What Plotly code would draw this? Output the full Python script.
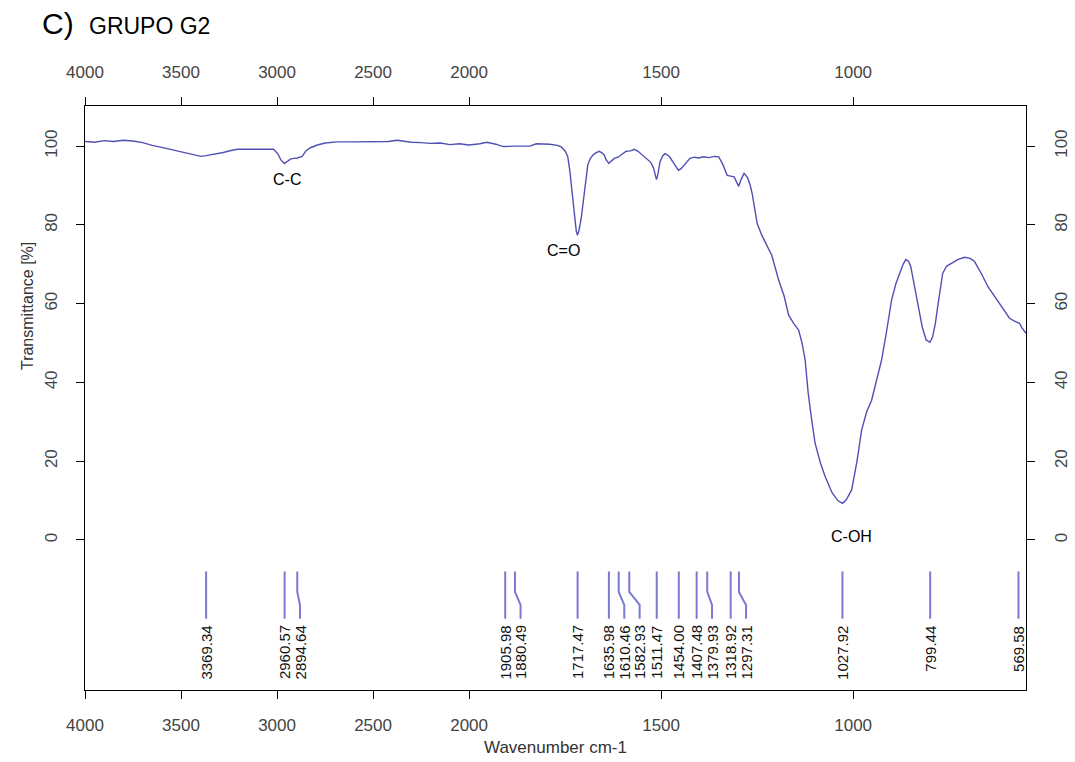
import plotly.graph_objects as go

# ---------------- data ----------------
wavenumber = [4000, 3950, 3900, 3850, 3800, 3750, 3700, 3650, 3600, 3537, 3480, 3430, 3397, 3370,
              3330, 3280, 3240, 3207, 3150, 3100, 3050, 3018, 2995, 2980, 2962, 2950, 2930, 2914,
              2895, 2869, 2850, 2826, 2790, 2750, 2687, 2600, 2500, 2420, 2376, 2340, 2300, 2250,
              2203, 2150, 2100, 2050, 2000, 1972, 1954, 1930, 1912, 1880, 1842, 1825, 1790, 1770,
              1760, 1750, 1743, 1738, 1734, 1729, 1725, 1721, 1718, 1714, 1708, 1703, 1699, 1695,
              1691, 1685, 1678, 1670, 1661, 1654, 1648, 1643, 1636, 1630, 1622, 1612, 1604, 1591,
              1580, 1570, 1560, 1548, 1535, 1527, 1520, 1512, 1508, 1503, 1496, 1490, 1484, 1478,
              1466, 1455, 1448, 1438, 1425, 1413, 1402, 1390, 1375, 1362, 1350, 1340, 1328, 1319,
              1310, 1298, 1292, 1284, 1275, 1268, 1262, 1255, 1250, 1238, 1220, 1212, 1194, 1180,
              1168, 1155, 1142, 1133, 1125, 1117, 1108, 1099, 1085, 1073, 1055, 1040, 1028, 1018,
              1004, 990, 978, 965, 952, 940, 926, 913, 900, 889, 879, 870, 863, 856, 850, 840, 831,
              820, 810, 800, 793, 786, 780, 773, 767, 757, 745, 728, 710, 695, 684, 667, 649, 632,
              615, 604, 593, 580, 567, 560, 554, 550]
transmittance = [101.2, 101.0, 101.4, 101.2, 101.5, 101.3, 100.9, 100.2, 99.7, 99.0, 98.3, 97.9, 97.4, 97.6,
                 97.9, 98.4, 98.9, 99.2, 99.2, 99.2, 99.3, 99.2, 98.0, 96.5, 95.6, 96.0, 96.7, 96.9,
                 97.0, 97.4, 98.8, 99.6, 100.3, 100.8, 101.1, 101.1, 101.1, 101.2, 101.5, 101.2, 101.0, 100.9,
                 100.7, 100.8, 100.4, 100.6, 100.3, 100.6, 101.0, 100.5, 99.9, 100.0, 100.0, 100.6, 100.5, 100.2,
                 99.8, 98.8, 97.3, 94.0, 90.1, 85.5, 81.7, 78.5, 77.4, 78.5, 81.7, 85.5, 88.4, 92.0,
                 95.2, 96.8, 97.7, 98.3, 98.7, 98.3, 97.7, 96.5, 95.6, 96.2, 96.9, 97.2, 97.7, 98.7,
                 98.8, 99.2, 98.7, 97.7, 96.8, 95.9, 94.5, 91.5, 93.0, 96.0, 97.5, 98.1, 97.8, 97.3,
                 95.5, 93.9, 94.3, 95.5, 96.9, 97.2, 97.0, 97.3, 97.1, 97.4, 97.3, 95.5, 92.6, 92.4,
                 92.2, 89.8, 91.5, 93.1, 92.0, 90.1, 87.5, 83.3, 80.4, 77.4, 73.6, 72.3, 66.0, 62.0,
                 57.1, 55.0, 53.3, 50.0, 45.7, 37.2, 30.5, 24.5, 19.5, 16.1, 12.0, 10.0, 9.3, 10.2,
                 12.7, 20.0, 27.9, 32.5, 35.5, 40.0, 45.7, 53.0, 60.9, 65.0, 67.7, 70.0, 71.2, 70.8, 69.4, 64.5, 59.2,
                 54.0, 50.8, 50.2, 51.6, 55.0, 59.2, 64.0, 67.7, 69.5, 70.2, 71.2, 71.8, 71.5, 70.7, 67.8, 64.3, 61.8,
                 59.6, 57.8, 56.3, 55.6, 55.0, 53.8, 52.9, 52.5]

peak_wn = [3369.34, 2960.57, 2894.64, 1905.98, 1880.49, 1717.47, 1635.98, 1610.46, 1582.93,
           1511.47, 1454.00, 1407.48, 1379.93, 1318.92, 1297.31, 1027.92, 799.44, 569.58]
peak_labels = ["3369.34", "2960.57", "2894.64", "1905.98", "1880.49", "1717.47", "1635.98", "1610.46",
               "1582.93", "1511.47", "1454.00", "1407.48", "1379.93", "1318.92", "1297.31", "1027.92",
               "799.44", "569.58"]

tick_wn = [4000, 3500, 3000, 2500, 2000, 1500, 1000]
tick_text = ["4000", "3500", "3000", "2500", "2000", "1500", "1000"]
y_ticks = [0, 20, 40, 60, 80, 100]

band_labels = ["C-C", "C=O", "C-OH"]
band_wn = [2950, 1755, 1005]
band_t = [91.5, 73.5, 0.8]

X_START, X_END = 4000, 550
Y_RANGE = [-38.1, 110.2]


# Piecewise wavenumber axis: scale doubles below 2000 cm-1
def to_u(wn):
    return 4000 - wn if wn >= 2000 else 2000 + 2 * (2000 - wn)


u_spec = [to_u(w) for w in wavenumber]
u_peaks = [to_u(w) for w in peak_wn]

# spread labels so they do not overlap (push to the right)
MIN_GAP = 80
order = sorted(range(len(u_peaks)), key=lambda i: u_peaks[i])
u_lab = [0.0] * len(u_peaks)
prev = None
for i in order:
    v = u_peaks[i] if prev is None else max(u_peaks[i], prev + MIN_GAP)
    u_lab[i] = v
    prev = v

LINE_TOP, KINK1, KINK2, LINE_BOT, LABEL_TOP = -8.0, -13.2, -16.5, -20.0, -21.2

px, py = [], []
for up, ul in zip(u_peaks, u_lab):
    px += [up, up, ul, ul, None]
    py += [LINE_TOP, KINK1, KINK2, LINE_BOT, None]

FONT = "Liberation Sans, Arial, sans-serif"

fig = go.Figure()
fig.add_trace(go.Scatter(x=u_spec, y=transmittance, mode="lines",
                         line=dict(color="#5050b4", width=1.4), hoverinfo="skip", showlegend=False))
fig.add_trace(go.Scatter(x=px, y=py, mode="lines",
                         line=dict(color="#7a7ad2", width=2), hoverinfo="skip", showlegend=False))
# invisible trace to activate top/right axes
fig.add_trace(go.Scatter(x=[u_spec[0]], y=[transmittance[0]], xaxis="x2", yaxis="y2", mode="markers",
                         marker=dict(opacity=0), hoverinfo="skip", showlegend=False))

tick_font = dict(family=FONT, size=17, color="#444444")
u_ticks = [to_u(w) for w in tick_wn]
x_range = [to_u(X_START), to_u(X_END)]

common_x = dict(range=x_range, tickmode="array", tickvals=u_ticks, ticktext=tick_text,
                showline=True, linecolor="black", linewidth=1, ticks="outside", ticklen=8,
                tickcolor="black", tickwidth=1, showgrid=False, zeroline=False, tickfont=tick_font,
                ticklabelstandoff=12, automargin=False)
common_y = dict(range=Y_RANGE, tickmode="array", tickvals=y_ticks, ticktext=[str(v) for v in y_ticks],
                showline=True, linecolor="black", linewidth=1, ticks="outside", ticklen=8,
                tickcolor="black", tickwidth=1, showgrid=False, zeroline=False, tickfont=tick_font,
                tickangle=-90, ticklabelstandoff=12, automargin=False)

annotations = []
for ul, lab in zip(u_lab, peak_labels):
    annotations.append(dict(x=ul, y=LABEL_TOP, xref="x", yref="y", text=lab, showarrow=False,
                            textangle=-90, xanchor="center", yanchor="top",
                            font=dict(family=FONT, size=15, color="#111111")))
for w, t, lab in zip(band_wn, band_t, band_labels):
    annotations.append(dict(x=to_u(w), y=t, xref="x", yref="y", text=lab, showarrow=False,
                            xanchor="center", yanchor="middle",
                            font=dict(family=FONT, size=16, color="black")))

annotations += [
    dict(x=-0.0478, y=1.1418, xref="paper", yref="paper", text="C)", showarrow=False,
         xanchor="left", yanchor="middle",
         font=dict(family=FONT, size=30, color="black")),
    dict(x=0.002, y=1.1377, xref="paper", yref="paper", text="GRUPO G2", showarrow=False,
         xanchor="left", yanchor="middle",
         font=dict(family=FONT, size=23, color="black")),
    dict(x=-0.0616, y=0.6575, xref="paper", yref="paper", text="Transmittance [%]", showarrow=False,
         textangle=-90, xanchor="center", yanchor="middle",
         font=dict(family=FONT, size=16, color="#333333")),
    dict(x=0.5, y=-0.0993, xref="paper", yref="paper", text="Wavenumber cm-1", showarrow=False,
         xanchor="center", yanchor="middle",
         font=dict(family=FONT, size=17, color="#333333")),
]

fig.update_layout(
    width=1075, height=762,
    margin=dict(l=85, r=49, t=106, b=72),
    paper_bgcolor="white", plot_bgcolor="white",
    xaxis=dict(**common_x, side="bottom"),
    xaxis2=dict(**common_x, side="top", overlaying="x", anchor="y"),
    yaxis=dict(**common_y, side="left"),
    yaxis2=dict(**common_y, side="right", overlaying="y", anchor="x"),
    annotations=annotations,
    showlegend=False,
)

fig.write_html("out.html")
